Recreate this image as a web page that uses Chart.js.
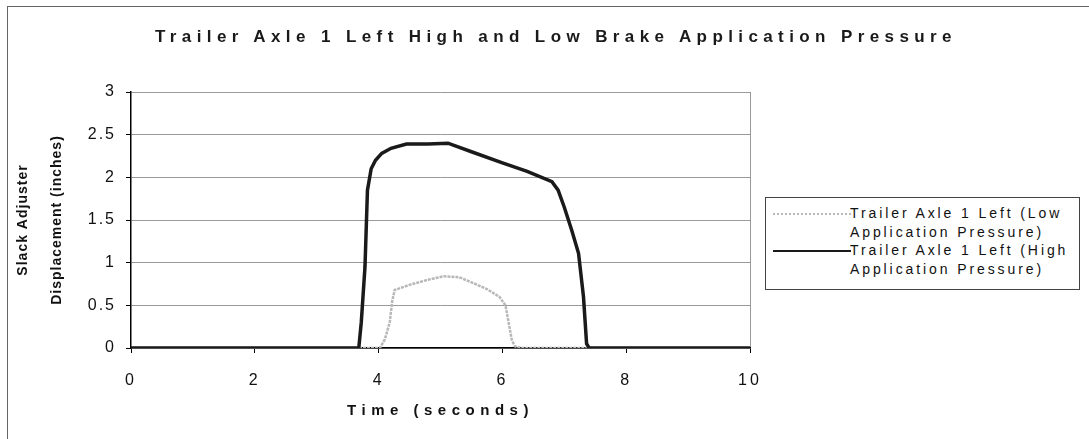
<!DOCTYPE html>
<html>
<head>
<meta charset="utf-8">
<title>Trailer Axle 1 Left High and Low Brake Application Pressure</title>
<script src="https://cdn.jsdelivr.net/npm/chart.js@4.4.1/dist/chart.umd.min.js"></script>
<style>
    body { margin: 0; background: #fff; font-family: "Liberation Sans", Arial, sans-serif; }
    .wrap { position: relative; width: 1089px; height: 439px; overflow: hidden; }
    .frame { position: absolute; left: 7px; top: 6px; width: 1200px; height: 600px; border-left: 1px solid #666; border-top: 1px solid #666; }
    .chart-box { position: absolute; left: 0; top: 0; width: 1089px; height: 439px; }
    .chart-title { position: absolute; left: 0; width: 1112px; top: 27px; text-align: center; font-weight: bold; font-size: 17px; letter-spacing: 5.4px; color: #1a1a1a; }
    .legend { position: absolute; left: 765px; top: 197px; width: 313px; height: 91px; border: 1px solid #444; background: #fff; }
    .legend-item { position: absolute; left: 0; width: 100%; }
    .legend-line { position: absolute; left: 7px; width: 78px; }
    .legend-text { position: absolute; left: 84px; font-size: 14px; letter-spacing: 2.9px; line-height: 18.5px; color: #111; white-space: nowrap; }
</style>
</head>
<body>
<div class="wrap">
    <div class="frame"></div>
    <div class="chart-box"><canvas id="brakeChart"></canvas></div>
    <div class="chart-title">Trailer Axle 1 Left High and Low Brake Application Pressure</div>
    <div class="legend" id="legend"></div>
</div>
<script>
// Time (seconds) / slack adjuster displacement (inches)
const lowTime = [0, 4.02, 4.1, 4.18, 4.22, 4.26, 4.5, 4.8, 5.05, 5.3, 5.5, 5.75, 5.95, 6.05, 6.1, 6.15, 6.2, 6.3, 10];
const lowDisp = [0, 0, 0.1, 0.3, 0.55, 0.68, 0.74, 0.8, 0.84, 0.83, 0.77, 0.69, 0.6, 0.5, 0.3, 0.1, 0.02, 0, 0];

const highTime = [0, 3.68, 3.72, 3.78, 3.82, 3.88, 3.95, 4.05, 4.2, 4.45, 4.8, 5.12, 5.5, 6.0, 6.4, 6.8, 6.9, 7.0, 7.12, 7.23, 7.31, 7.36, 7.4, 10];
const highDisp = [0, 0, 0.3, 0.95, 1.85, 2.1, 2.2, 2.28, 2.34, 2.39, 2.39, 2.4, 2.3, 2.17, 2.07, 1.95, 1.85, 1.65, 1.38, 1.11, 0.6, 0.05, 0, 0];

const seriesLabels = ['Trailer Axle 1 Left (Low\nApplication Pressure)', 'Trailer Axle 1 Left (High\nApplication Pressure)'];
const xTickValues = [0, 2, 4, 6, 8, 10];
const yTickValues = [0, 0.5, 1, 1.5, 2, 2.5, 3];

function toPoints(xs, ys) {
    return xs.map((x, i) => ({ x: x, y: ys[i] }));
}

// Excel-style spaced lettering for tick labels and axis titles
const letterSpacing = {
    x: { labels: '3px', title: '5.5px' },
    y: { labels: '2px', title: '1px' }
};

const spacingPlugin = {
    id: 'spacing',
    beforeDraw(chart) {
        ['x', 'y'].forEach(id => {
            const s = chart.scales[id];
            if (!s || s._spaced) return;
            const origLabels = s.drawLabels.bind(s);
            const origTitle = s.drawTitle.bind(s);
            s.drawLabels = function(area) {
                const c = this.ctx;
                c.save();
                c.letterSpacing = letterSpacing[id].labels;
                origLabels(area);
                c.restore();
            };
            s.drawTitle = function() {
                const c = this.ctx;
                c.save();
                c.letterSpacing = letterSpacing[id].title;
                origTitle();
                c.restore();
            };
            s._spaced = true;
        });
    }
};

const datasets = [
    {
        label: seriesLabels[0],
        data: toPoints(lowTime, lowDisp),
        borderColor: '#b8b8b8',
        borderWidth: 2.5,
        borderDash: [3, 1],
        pointRadius: 0,
        tension: 0,
        order: 1
    },
    {
        label: seriesLabels[1],
        data: toPoints(highTime, highDisp),
        borderColor: '#1a1a1a',
        borderWidth: 3.5,
        pointRadius: 0,
        tension: 0,
        order: 0
    }
];

const tickFont = { family: '"Liberation Sans", Arial, sans-serif', size: 16 };

const ctx = document.getElementById('brakeChart');
new Chart(ctx, {
    type: 'line',
    data: { datasets: datasets },
    plugins: [spacingPlugin],
    options: {
        responsive: true,
        maintainAspectRatio: false,
        animation: false,
        layout: { padding: { top: 92, right: 339, bottom: 0, left: 0 } },
        plugins: {
            legend: { display: false },
            tooltip: { enabled: false }
        },
        scales: {
            x: {
                type: 'linear',
                min: 0,
                max: 10,
                afterBuildTicks: scale => { scale.ticks = xTickValues.map(v => ({ value: v })); },
                afterFit: scale => { scale.height = 91; },
                border: { color: '#000', width: 1.5 },
                grid: {
                    drawOnChartArea: true,
                    color: c => (c.tick && c.tick.value === 10) ? '#999' : 'rgba(0,0,0,0)',
                    tickColor: '#000',
                    tickLength: 5
                },
                ticks: {
                    color: '#111',
                    padding: 18,
                    maxRotation: 0,
                    callback: v => String(v),
                    font: tickFont
                },
                title: {
                    display: true,
                    text: 'Time (seconds)',
                    color: '#111',
                    padding: { top: 0, bottom: 19 },
                    font: { family: '"Liberation Sans", Arial, sans-serif', size: 15, weight: 'bold' }
                }
            },
            y: {
                min: 0,
                max: 3,
                afterBuildTicks: scale => { scale.ticks = yTickValues.map(v => ({ value: v })); },
                afterFit: scale => { scale.width = 131; },
                border: { color: '#000', width: 1.5 },
                grid: {
                    color: '#9a9a9a',
                    tickColor: '#000',
                    tickLength: 5
                },
                ticks: {
                    color: '#111',
                    padding: 10,
                    callback: v => String(v),
                    font: tickFont
                },
                title: {
                    display: true,
                    text: ['Slack Adjuster', 'Displacement (inches)'],
                    color: '#111',
                    padding: { top: 6, bottom: 0 },
                    font: { family: '"Liberation Sans", Arial, sans-serif', size: 14, weight: 'bold', lineHeight: 34 / 14 }
                }
            }
        }
    }
});

// HTML legend built from the dataset styles
const legend = document.getElementById('legend');
const legendTops = [6, 43];
datasets.forEach((ds, i) => {
    const item = document.createElement('div');
    item.className = 'legend-item';
    item.style.top = legendTops[i] + 'px';
    const line = document.createElement('div');
    line.className = 'legend-line';
    line.style.top = '9px';
    line.style.borderTop = ds.borderDash ? '2px dotted ' + ds.borderColor : '2.5px solid ' + ds.borderColor;
    const text = document.createElement('div');
    text.className = 'legend-text';
    text.innerHTML = ds.label.split('\n').join('<br>');
    item.appendChild(line);
    item.appendChild(text);
    legend.appendChild(item);
});
</script>
</body>
</html>
